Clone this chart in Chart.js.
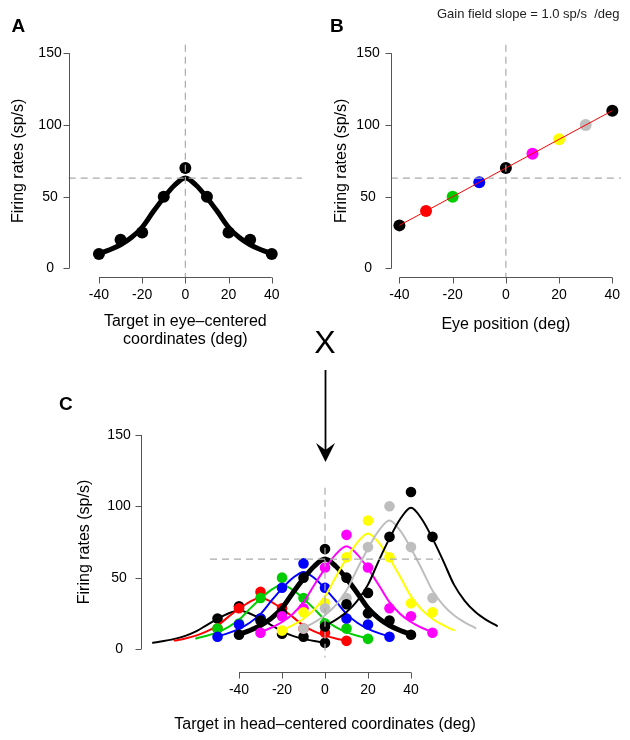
<!DOCTYPE html>
<html lang="en">
<head>
<meta charset="UTF-8" />
<title>Gain field and tuning curves</title>
<script src="https://cdn.jsdelivr.net/npm/chart.js@4"></script>
<style>
  * { margin: 0; padding: 0; box-sizing: border-box; }
  body {
    width: 630px; height: 740px; background: #fff; position: relative; overflow: hidden;
    font-family: 'Liberation Sans', Arial, Helvetica, sans-serif; color: #000;
  }
  canvas { position: absolute; }
  #cA { left: 0; top: 0; }
  #cB { left: 315px; top: 0; }
  #cC { left: 0; top: 360px; }
  .lbl { position: absolute; font-weight: bold; font-size: 19px; line-height: 1; }
  .note { position: absolute; left: 437px; top: 6.6px; font-size: 13px; line-height: 1; white-space: pre; color: #222; }
  .cross { position: absolute; left: 295px; width: 60px; top: 326px; text-align: center; font-size: 32px; line-height: 1; }
  svg { position: absolute; left: 0; top: 0; pointer-events: none; }
</style>
</head>
<body>
  <canvas id="cA" width="315" height="360"></canvas>
  <canvas id="cB" width="315" height="360"></canvas>
  <canvas id="cC" width="630" height="380"></canvas>

  <div class="lbl" style="left:11.5px; top:15.8px;">A</div>
  <div class="lbl" style="left:330px; top:15.8px;">B</div>
  <div class="lbl" style="left:59px; top:394.2px;">C</div>
  <div class="note">Gain field slope = 1.0 sp/s  /deg</div>
  <div class="cross">X</div>
  <svg width="630" height="740">
    <line x1="325.5" y1="370" x2="325.5" y2="452" stroke="#000" stroke-width="1.8" />
    <polygon points="325.5,462 316,443 325.5,450 335,443" fill="#000" />
  </svg>

  <script>
    // --- data ---
    // A: target in eye-centered coordinates
    const eyeCentered = [-40, -30, -20, -10, 0, 10, 20, 30, 40];
    const ratesA = [10, 20, 25, 50, 70, 50, 25, 20, 10];
    const fitT = [-40, -35, -30, -25, -20, -15, -10, -5, 0, 5, 10, 15, 20, 25, 30, 35, 40];
    const fitA = [10.3, 13, 16.5, 21.5, 28.7, 39.3, 49.3, 58, 63, 58, 49.3, 39.3, 28.7, 21.5, 16.5, 13, 10.3];

    // B: gain field
    const eyePos = [-40, -30, -20, -10, 0, 10, 20, 30, 40];
    const gainRates = [30, 40, 50, 60, 70, 80, 90, 100, 110];
    const slopeX = [-40, 40];
    const slopeY = [30, 110];
    const eyeColors = ['#000000', '#ff0000', '#00cd00', '#0000ff', '#000000', '#ff00ff', '#ffff00', '#bebebe', '#000000'];

    // C: head-centered responses, one row per eye position
    const headPos = [-50, -40, -30, -20, -10, 0, 10, 20, 30, 40, 50];
    const ratesC = [
      [21.4, 30, 21.4, 10.7, 8.6, 4.3, null, null, null, null, null],
      [14.3, 28.6, 40, 28.6, 14.3, 11.4, 5.7, null, null, null, null],
      [14.3, 17.9, 35.7, 50, 35.7, 17.9, 14.3, 7.1, null, null, null],
      [8.6, 17.1, 21.4, 42.9, 60, 42.9, 21.4, 17.1, 8.6, null, null],
      [null, 10, 20, 25, 50, 70, 50, 25, 20, 10, null],
      [null, null, 11.4, 22.9, 28.6, 57.1, 80, 57.1, 28.6, 22.9, 11.4],
      [null, null, null, 12.9, 25.7, 32.1, 64.3, 90, 64.3, 32.1, 25.7],
      [null, null, null, null, 14.3, 28.6, 35.7, 71.4, 100, 71.4, 35.7],
      [null, null, null, null, null, 15.7, 31.4, 39.3, 78.6, 110, 78.6]
    ];
    // fitted curves, sampled at fitT around each eye position
    const fitC = [
      [4.4, 5.6, 7.1, 9.2, 12.3, 16.8, 21.1, 24.9, 27, 24.9, 21.1, 16.8, 12.3, 9.2, 7.1, 5.6, 4.4],
      [5.9, 7.4, 9.4, 12.3, 16.4, 22.5, 28.2, 33.1, 36, 33.1, 28.2, 22.5, 16.4, 12.3, 9.4, 7.4, 5.9],
      [7.4, 9.3, 11.8, 15.4, 20.5, 28.1, 35.2, 41.4, 45, 41.4, 35.2, 28.1, 20.5, 15.4, 11.8, 9.3, 7.4],
      [8.8, 11.1, 14.1, 18.4, 24.6, 33.7, 42.3, 49.7, 54, 49.7, 42.3, 33.7, 24.6, 18.4, 14.1, 11.1, 8.8],
      [10.3, 13, 16.5, 21.5, 28.7, 39.3, 49.3, 58, 63, 58, 49.3, 39.3, 28.7, 21.5, 16.5, 13, 10.3],
      [11.8, 14.9, 18.9, 24.6, 32.8, 44.9, 56.3, 66.3, 72, 66.3, 56.3, 44.9, 32.8, 24.6, 18.9, 14.9, 11.8],
      [13.2, 16.7, 21.2, 27.6, 36.9, 50.5, 63.4, 74.6, 81, 74.6, 63.4, 50.5, 36.9, 27.6, 21.2, 16.7, 13.2],
      [14.7, 18.6, 23.6, 30.7, 41, 56.1, 70.4, 82.9, 90, 82.9, 70.4, 56.1, 41, 30.7, 23.6, 18.6, 14.7],
      [16.2, 20.4, 25.9, 33.8, 45.1, 61.8, 77.5, 91.1, 99, 91.1, 77.5, 61.8, 45.1, 33.8, 25.9, 20.4, 16.2]
    ];

    const refRate = 63;
    const xTicks = [-40, -20, 0, 20, 40];
    const yTicks = [0, 50, 100, 150];

    const FONT = "'Liberation Sans', Arial, Helvetica, sans-serif";
    const tickFont = { family: FONT, size: 14 };
    const titleFont = { family: FONT, size: 16, lineHeight: 1.08 };

    // R-style detached axes + dashed guides
    const rAxes = {
      id: 'rAxes',
      afterDatasetsDraw(chart, args, o) {
        const { ctx, chartArea: a, scales: { x, y } } = chart;
        ctx.save();
        ctx.strokeStyle = '#aaa';
        ctx.lineWidth = 1.2;
        ctx.setLineDash([7, 5]);
        ctx.beginPath();
        const x0 = x.getPixelForValue(0);
        ctx.moveTo(x0, o.vTop != null ? y.getPixelForValue(o.vTop) : a.top);
        ctx.lineTo(x0, a.bottom);
        const yh = y.getPixelForValue(refRate);
        ctx.moveTo(o.hFrom != null ? x.getPixelForValue(o.hFrom) : a.left, yh);
        ctx.lineTo(o.hTo != null ? x.getPixelForValue(o.hTo) : a.right, yh);
        ctx.stroke();
        ctx.setLineDash([]);

        ctx.strokeStyle = '#555';
        ctx.lineWidth = 1;
        ctx.beginPath();
        const ax = Math.round(a.left) + 0.5;
        ctx.moveTo(ax, y.getPixelForValue(yTicks[0]));
        ctx.lineTo(ax, y.getPixelForValue(yTicks[yTicks.length - 1]));
        yTicks.forEach(v => {
          const p = Math.round(y.getPixelForValue(v)) + 0.5;
          ctx.moveTo(ax, p); ctx.lineTo(ax - 6, p);
        });
        const ay = Math.round(a.bottom + (o.xGap || 0)) + 0.5;
        ctx.moveTo(x.getPixelForValue(xTicks[0]), ay);
        ctx.lineTo(x.getPixelForValue(xTicks[xTicks.length - 1]), ay);
        xTicks.forEach(v => {
          const p = Math.round(x.getPixelForValue(v)) + 0.5;
          ctx.moveTo(p, ay); ctx.lineTo(p, ay + 6);
        });
        ctx.stroke();
        ctx.restore();
      }
    };

    function opts(p) {
      return {
        responsive: false,
        animation: false,
        events: [],
        layout: { padding: p.pad },
        plugins: { legend: { display: false }, tooltip: { enabled: false }, rAxes: p.guides },
        scales: {
          x: {
            type: 'linear', min: p.xMin, max: p.xMax,
            afterFit: s => { s.height = p.xH; },
            afterBuildTicks: s => { s.ticks = xTicks.map(v => ({ value: v })); },
            grid: { display: false, drawTicks: false },
            border: { display: false },
            ticks: { padding: p.xPad, color: '#000', font: tickFont, autoSkip: false, maxRotation: 0, callback: v => String(v) },
            title: { display: true, text: p.xTitle, color: '#000', font: titleFont, padding: { top: 0, bottom: p.xTitlePad } }
          },
          y: {
            type: 'linear', min: -6, max: 156,
            afterFit: s => { s.width = p.yW; },
            afterBuildTicks: s => { s.ticks = yTicks.map(v => ({ value: v })); },
            grid: { display: false, drawTicks: false },
            border: { display: false },
            ticks: { padding: p.yPad, crossAlign: 'center', color: '#000', font: tickFont, callback: v => String(v) },
            title: { display: true, text: 'Firing rates (sp/s)', color: '#000', font: titleFont, padding: { top: p.yTitlePad, bottom: 0 } }
          }
        }
      };
    }

    // Panel A
    new Chart(document.getElementById('cA'), {
      type: 'scatter',
      data: {
        datasets: [
          {
            data: fitT.map((t, i) => ({ x: t, y: fitA[i] })),
            showLine: true, borderColor: '#000', borderWidth: 5, pointRadius: 0,
            cubicInterpolationMode: 'monotone', borderCapStyle: 'round', borderJoinStyle: 'round', order: 2
          },
          {
            data: eyeCentered.map((t, i) => ({ x: t, y: ratesA[i] })),
            backgroundColor: '#000', borderWidth: 0, pointRadius: 6, order: 1
          }
        ]
      },
      options: opts({
        pad: { left: 0, top: 44.7, right: 13, bottom: 0 },
        xMin: -54, xMax: 54, xH: 83, yW: 68.7,
        xPad: 9.6, yPad: 7,
        xTitle: ['Target in eye\u2013centered', 'coordinates (deg)'], xTitlePad: 12.1,
        yTitlePad: 9.7,
        guides: {}
      }),
      plugins: [rAxes]
    });

    // Panel B
    new Chart(document.getElementById('cB'), {
      type: 'scatter',
      data: {
        datasets: [
          {
            data: slopeX.map((e, i) => ({ x: e, y: slopeY[i] })),
            showLine: true, borderColor: '#ff0000', borderWidth: 1, pointRadius: 0, order: 1
          },
          {
            data: eyePos.map((e, i) => ({ x: e, y: gainRates[i] })),
            backgroundColor: eyeColors, borderWidth: 0, pointRadius: 6, order: 2
          }
        ]
      },
      options: opts({
        pad: { left: 0, top: 44.7, right: 7.5, bottom: 0 },
        xMin: -43.2, xMax: 43.2, xH: 83, yW: 75.9,
        xPad: 9.6, yPad: 11.2,
        xTitle: 'Eye position (deg)', xTitlePad: 26.4,
        yTitlePad: 18.1,
        guides: {}
      }),
      plugins: [rAxes]
    });

    // Panel C
    const dsC = [];
    eyePos.forEach((e, i) => {
      dsC.push({
        data: fitT.map((t, j) => ({ x: e + t, y: fitC[i][j] })),
        showLine: true, borderColor: eyeColors[i], borderWidth: e === 0 ? 5 : 2, pointRadius: 0,
        cubicInterpolationMode: 'monotone', borderCapStyle: 'round', borderJoinStyle: 'round',
        order: 100 - 2 * i
      });
      dsC.push({
        data: headPos.map((h, j) => ({ x: h, y: ratesC[i][j] })).filter(d => d.y !== null),
        backgroundColor: eyeColors[i], borderWidth: 0, pointRadius: 5.3,
        order: 99 - 2 * i
      });
    });

    new Chart(document.getElementById('cC'), {
      type: 'scatter',
      data: { datasets: dsC },
      options: opts({
        pad: { left: 0, top: 66.4, right: 121, bottom: 0 },
        xMin: -85.6, xMax: 85.6, xH: 82.44, yW: 141,
        xPad: 24, yPad: 10.3,
        xTitle: 'Target in head\u2013centered coordinates (deg)', xTitlePad: 6.4,
        yTitlePad: 76.4,
        guides: { vTop: 113, hFrom: -53.5, hTo: 53.5, xGap: 14.7 }
      }),
      plugins: [rAxes]
    });
  </script>
</body>
</html>
